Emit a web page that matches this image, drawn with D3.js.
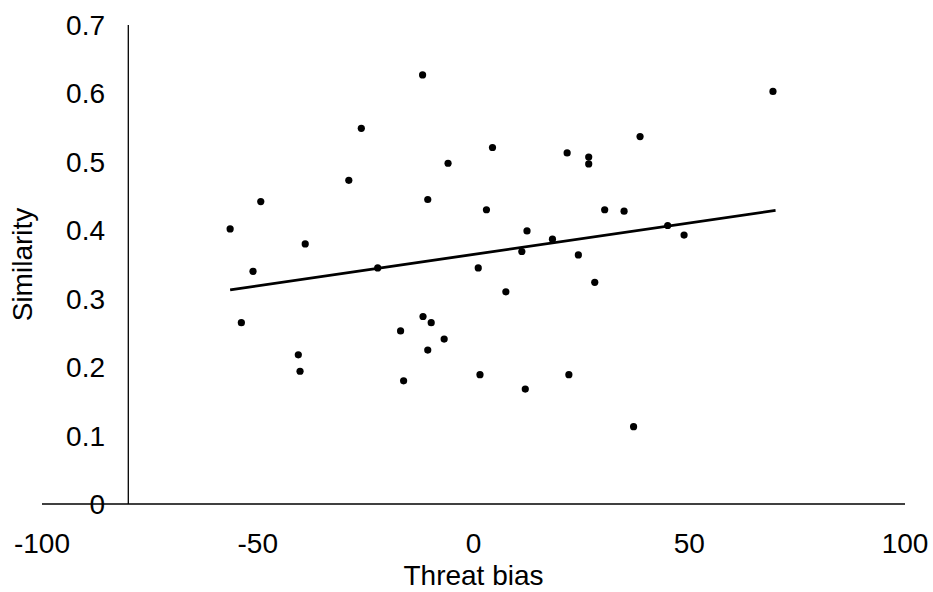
<!DOCTYPE html>
<html>
<head>
<meta charset="utf-8">
<script src="https://cdn.jsdelivr.net/npm/d3@7"></script>
<style>
  body { margin: 0; background: #fff; }
  text { font-family: "Liberation Sans", Arial, sans-serif; fill: #000; }
</style>
</head>
<body>
<div id="chart"></div>
<script>
// Threat bias (x) vs similarity (y)
var threatBias = [-56.4, -53.8, -51.1, -49.3, -40.6, -40.2, -39.0, -28.9, -26.0, -22.2,
                  -16.9, -16.2, -11.8, -11.7, -10.6, -10.6, -9.8, -6.8, -5.9, 1.1,
                  1.5, 3.0, 4.4, 7.5, 11.2, 12.0, 12.4, 18.3, 21.7, 22.1,
                  24.3, 26.7, 26.7, 28.1, 30.4, 34.9, 37.1, 38.6, 45.0, 48.8, 69.4];
var similarity = [0.402, 0.265, 0.340, 0.442, 0.218, 0.194, 0.380, 0.473, 0.549, 0.345,
                  0.253, 0.180, 0.627, 0.274, 0.445, 0.225, 0.265, 0.241, 0.498, 0.345,
                  0.189, 0.430, 0.521, 0.310, 0.369, 0.168, 0.399, 0.387, 0.513, 0.189,
                  0.364, 0.507, 0.497, 0.324, 0.430, 0.428, 0.113, 0.537, 0.407, 0.393, 0.603];

// linear trendline end points
var trendX = [-56.4, 70.0];
var trendY = [0.313, 0.429];

var xTicks = [-100, -50, 0, 50, 100];
var yTicks = [0, 0.1, 0.2, 0.3, 0.4, 0.5, 0.6, 0.7];

var width = 933, height = 592;
var fontSize = "28px";

var svg = d3.select("#chart")
            .append("svg")
            .attr("width", width)
            .attr("height", height);

var x = d3.scaleLinear().domain([-100, 100]).range([42, 905]);
var y = d3.scaleLinear().domain([0, 0.7]).range([504, 25]);

// vertical axis crosses at -80
var yAxisAt = -80;

// X axis line and labels
svg.append("line")
   .attr("x1", x(-100)).attr("x2", x(100))
   .attr("y1", y(0)).attr("y2", y(0))
   .attr("stroke", "#000").attr("stroke-width", 1.3);

svg.selectAll(".xlab")
   .data(xTicks)
   .enter()
   .append("text")
   .attr("class", "xlab")
   .attr("x", function(d) { return x(d); })
   .attr("y", 553)
   .attr("text-anchor", "middle")
   .style("font-size", fontSize)
   .text(function(d) { return d; });

// Y axis line and labels
svg.append("line")
   .attr("x1", x(yAxisAt)).attr("x2", x(yAxisAt))
   .attr("y1", y(0)).attr("y2", y(0.7))
   .attr("stroke", "#000").attr("stroke-width", 1.3);

svg.selectAll(".ylab")
   .data(yTicks)
   .enter()
   .append("text")
   .attr("class", "ylab")
   .attr("x", 105)
   .attr("y", function(d) { return y(d) + 10; })
   .attr("text-anchor", "end")
   .style("font-size", fontSize)
   .text(function(d) { return d; });

// Axis titles
svg.append("text")
   .attr("x", x(0))
   .attr("y", 585)
   .attr("text-anchor", "middle")
   .style("font-size", fontSize)
   .text("Threat bias");

svg.append("text")
   .attr("transform", "translate(32," + (y(0.35)) + ") rotate(-90)")
   .attr("text-anchor", "middle")
   .style("font-size", fontSize)
   .text("Similarity");

// Trendline
svg.append("path")
   .datum(d3.zip(trendX, trendY))
   .attr("fill", "none")
   .attr("stroke", "#000")
   .attr("stroke-width", 2.8)
   .attr("d", d3.line()
                .x(function(d) { return x(d[0]); })
                .y(function(d) { return y(d[1]); }));

// Dots
svg.selectAll("circle")
   .data(d3.zip(threatBias, similarity))
   .enter()
   .append("circle")
   .attr("cx", function(d) { return x(d[0]); })
   .attr("cy", function(d) { return y(d[1]); })
   .attr("r", 3.6)
   .style("fill", "#000");
</script>
</body>
</html>
